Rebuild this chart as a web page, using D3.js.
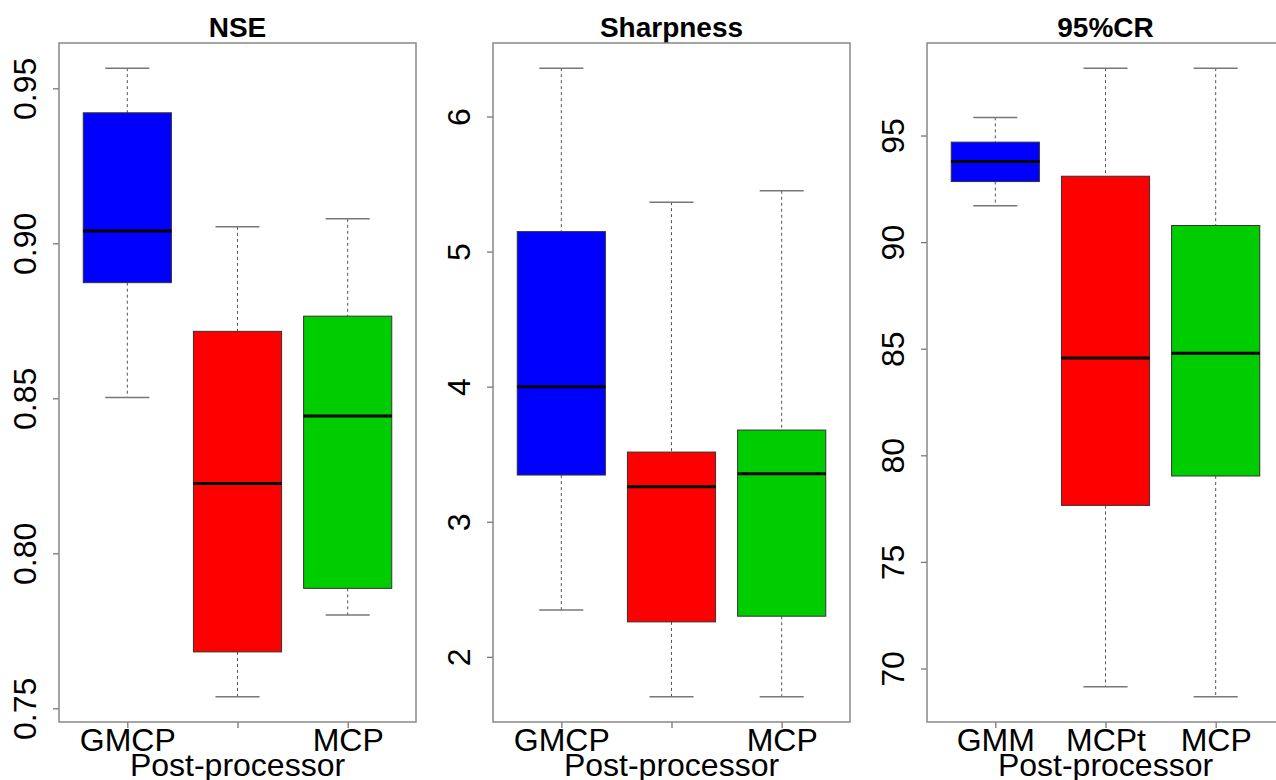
<!DOCTYPE html>
<html>
<head>
<meta charset="utf-8">
<script src="https://cdn.jsdelivr.net/npm/d3@7"></script>
<style>
  body { margin: 0; background: #fff; }
  svg { display: block; font-family: 'Liberation Sans', Arial, sans-serif; }
</style>
</head>
<body>
<svg id="chart"></svg>
<script>
// box stats per post-processor: [lower whisker, q1, median, q3, upper whisker]
const colors = ['#0000ff', '#ff0000', '#00cd00'];

const nseTitle = 'NSE';
const nseLabels = ['GMCP', '', 'MCP'];
const nseTicks = [0.75, 0.80, 0.85, 0.90, 0.95];
const nseStats = [
  [0.8503, 0.8873, 0.9040, 0.9421, 0.9565],
  [0.7537, 0.7682, 0.8225, 0.8716, 0.9053],
  [0.7801, 0.7887, 0.8443, 0.8765, 0.9079],
];

const sharpTitle = 'Sharpness';
const sharpLabels = ['GMCP', '', 'MCP'];
const sharpTicks = [2, 3, 4, 5, 6];
const sharpStats = [
  [2.346, 3.346, 4.000, 5.148, 6.358],
  [1.704, 2.259, 3.259, 3.516, 5.366],
  [1.704, 2.301, 3.356, 3.679, 5.450],
];

const crTitle = '95%CR';
const crLabels = ['GMM', 'MCPt', 'MCP'];
const crTicks = [70, 75, 80, 85, 90, 95];
const crStats = [
  [91.71, 92.84, 93.78, 94.69, 95.85],
  [69.14, 77.65, 84.56, 93.09, 98.16],
  [68.67, 79.03, 84.79, 90.78, 98.16],
];

const xTitle = 'Post-processor';

class BoxPanel {
  constructor(_config, _stats) {
    this.config = {
      parent: _config.parent,
      left: _config.left,
      top: 43,
      width: 357,
      height: 679,
      title: _config.title,
      labels: _config.labels,
      ticks: _config.ticks,
      tickFormat: _config.tickFormat,
    };
    this.stats = _stats;
    this.initVis();
  }

  initVis() {
    let vis = this;
    const c = vis.config;

    vis.g = c.parent.append('g').attr('transform', `translate(${c.left},${c.top})`);

    // R style: data range padded by 4%
    const lo = d3.min(vis.stats, (d) => d[0]);
    const hi = d3.max(vis.stats, (d) => d[4]);
    const pad = (hi - lo) * 0.04;
    vis.yScale = d3.scaleLinear().domain([lo - pad, hi + pad]).range([c.height, 0]);

    vis.xScale = d3.scalePoint().domain([0, 1, 2]).range([0, c.width]).padding(0.62);
    vis.boxWidth = vis.xScale.step() * 0.8;

    vis.renderVis();
  }

  renderVis() {
    let vis = this;
    const c = vis.config;
    const y = vis.yScale;
    const x = vis.xScale;
    const bw = vis.boxWidth;

    // y axis, labels rotated like R's default
    const yAxis = vis.g.append('g')
      .call(d3.axisLeft(y).tickValues(c.ticks).tickSize(6).tickFormat(c.tickFormat));
    yAxis.select('.domain').remove();
    yAxis.selectAll('line').attr('stroke', '#777').attr('stroke-width', 1.3);
    yAxis.selectAll('text')
      .attr('x', null)
      .attr('dy', null)
      .attr('text-anchor', 'middle')
      .attr('transform', 'translate(-23,0) rotate(-90)')
      .attr('fill', '#000')
      .style('font-size', '32px');

    // x axis
    const xAxis = vis.g.append('g')
      .attr('transform', `translate(0,${c.height})`)
      .call(d3.axisBottom(x).tickSize(6).tickFormat((d) => c.labels[d]));
    xAxis.select('.domain').remove();
    xAxis.selectAll('line').attr('stroke', '#777').attr('stroke-width', 1.3);
    xAxis.selectAll('text')
      .attr('y', 29)
      .attr('dy', null)
      .attr('fill', '#000')
      .style('font-size', '32px');

    vis.g.append('text')
      .attr('x', c.width / 2)
      .attr('y', c.height + 54)
      .attr('text-anchor', 'middle')
      .style('font-size', '32px')
      .text(xTitle);

    vis.g.append('text')
      .attr('x', c.width / 2)
      .attr('y', -6)
      .attr('text-anchor', 'middle')
      .style('font-size', '28px')
      .style('font-weight', 'bold')
      .text(c.title);

    const boxes = vis.g.selectAll('.box')
      .data(vis.stats)
      .join('g')
      .attr('class', 'box')
      .attr('transform', (d, i) => `translate(${x(i)},0)`);

    // whiskers
    boxes.append('line')
      .attr('y1', (d) => y(d[4]))
      .attr('y2', (d) => y(d[3]))
      .attr('stroke', '#555')
      .attr('stroke-dasharray', '3,3');
    boxes.append('line')
      .attr('y1', (d) => y(d[1]))
      .attr('y2', (d) => y(d[0]))
      .attr('stroke', '#555')
      .attr('stroke-dasharray', '3,3');

    // caps
    [0, 4].forEach((k) => {
      boxes.append('line')
        .attr('x1', -bw / 4)
        .attr('x2', bw / 4)
        .attr('y1', (d) => y(d[k]))
        .attr('y2', (d) => y(d[k]))
        .attr('stroke', '#777')
        .attr('stroke-width', 1.5);
    });

    boxes.append('rect')
      .attr('x', -bw / 2)
      .attr('width', bw)
      .attr('y', (d) => y(d[3]))
      .attr('height', (d) => y(d[1]) - y(d[3]))
      .attr('fill', (d, i) => colors[i])
      .attr('stroke', '#333')
      .attr('stroke-width', 1);

    boxes.append('line')
      .attr('x1', -bw / 2)
      .attr('x2', bw / 2)
      .attr('y1', (d) => y(d[2]))
      .attr('y2', (d) => y(d[2]))
      .attr('stroke', '#000')
      .attr('stroke-width', 3);

    // plot frame
    vis.g.append('rect')
      .attr('width', c.width)
      .attr('height', c.height)
      .attr('fill', 'none')
      .attr('stroke', '#888')
      .attr('stroke-width', 1.5);
  }
}

const svg = d3.select('#chart').attr('width', 1276).attr('height', 780);

new BoxPanel({ parent: svg, left: 59, title: nseTitle, labels: nseLabels,
  ticks: nseTicks, tickFormat: d3.format('.2f') }, nseStats);
new BoxPanel({ parent: svg, left: 493, title: sharpTitle, labels: sharpLabels,
  ticks: sharpTicks, tickFormat: d3.format('d') }, sharpStats);
new BoxPanel({ parent: svg, left: 927, title: crTitle, labels: crLabels,
  ticks: crTicks, tickFormat: d3.format('d') }, crStats);
</script>
</body>
</html>
